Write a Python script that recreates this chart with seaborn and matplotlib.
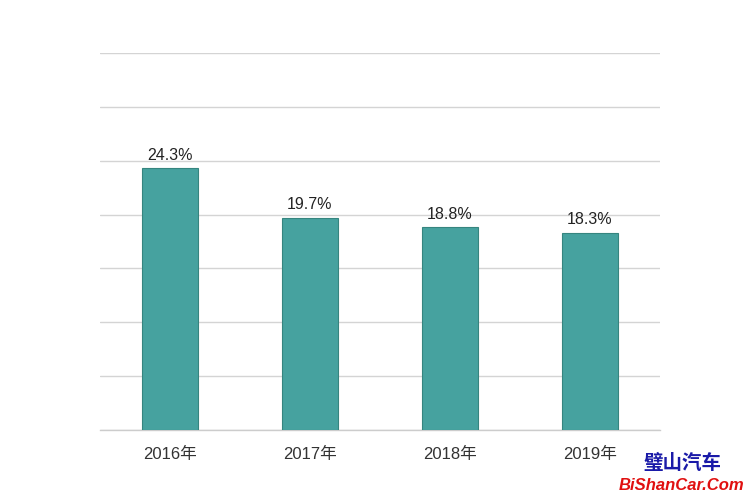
import matplotlib
matplotlib.use("Agg")
import matplotlib.pyplot as plt
import seaborn as sns
import pandas as pd

years = ["2016年", "2017年", "2018年", "2019年"]
values = [24.3, 19.7, 18.8, 18.3]
labels = ["24.3%", "19.7%", "18.8%", "18.3%"]

sns.set_theme(style="white")
plt.rcParams['font.family'] = ['Liberation Sans', 'Noto Sans CJK SC', 'DejaVu Sans']

df = pd.DataFrame({"year": years, "value": values})

fig = plt.figure(figsize=(7.44, 4.96), dpi=100)
fig.patch.set_facecolor("white")
ax = fig.add_axes([100/744, 66/496, 560/744, 377/496])

sns.barplot(data=df, x="year", y="value", color="#46A29F", width=0.4,
            edgecolor="#36857F", linewidth=0.8, saturation=1, ax=ax, zorder=3)

ax.set_ylim(0, 35)
ax.set_xlim(-0.5, 3.5)
ax.set_yticks([0, 5, 10, 15, 20, 25, 30, 35])
ax.yaxis.grid(True, color="#d4d4d4", linewidth=1)
ax.set_axisbelow(True)
ax.tick_params(axis="y", left=False, labelleft=False)
ax.tick_params(axis="x", bottom=False, labelsize=12, colors="#333333", pad=6)
ax.set_xlabel("")
ax.set_ylabel("")
for s in ["top", "right", "left"]:
    ax.spines[s].set_visible(False)
ax.spines["bottom"].set_color("#cccccc")
ax.spines["bottom"].set_linewidth(1)

for i, (v, lab) in enumerate(zip(values, labels)):
    ax.annotate(lab, (i, v), xytext=(0, 4), textcoords="offset points",
                ha="center", va="bottom", fontsize=11.5, color="#222222")

fig.text(682/744, 1 - 463/496, "璧山汽车", ha="center", va="center", fontsize=14,
         color="#1a1aa8", fontweight="bold", family=['Noto Sans CJK SC', 'DejaVu Sans'])
fig.text(682/744, 1 - 485/496, "BiShanCar.Com", ha="center", va="center", fontsize=12,
         color="#e01010", fontweight="bold", style="italic", family=['Liberation Sans'])

fig.savefig("out.png", dpi=100)
